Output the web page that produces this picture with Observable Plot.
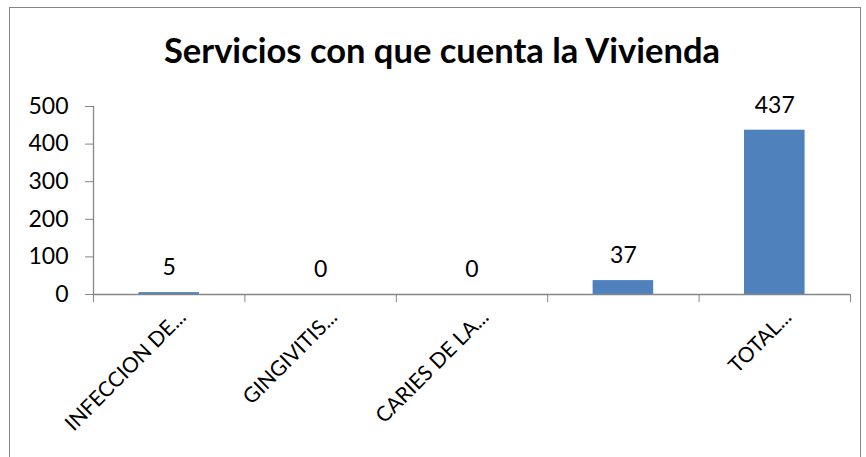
<!DOCTYPE html>
<html>
<head>
<meta charset="utf-8">
<script src="https://cdn.jsdelivr.net/npm/d3@7"></script>
<script src="https://cdn.jsdelivr.net/npm/@observablehq/plot@0.6"></script>
<style>
  html, body { margin: 0; padding: 0; background: #fff; }
  body { width: 866px; height: 457px; overflow: hidden; position: relative; font-family: Lato, "Open Sans", sans-serif; }
  #frame { position: absolute; left: 9px; top: 7px; width: 852px; height: 470px; border: 1.5px solid #868686; box-sizing: border-box; }
  #title { position: relative; height: 80px; font-weight: bold; font-size: 34.5px; line-height: 1; color: #000; }
  #title span { position: absolute; left: 18px; right: 0; top: 33px; text-align: center; }
  #chart { position: relative; }
</style>
</head>
<body>
<div id="frame"></div>
<div id="title"><span>Servicios con que cuenta la Vivienda</span></div>
<div id="chart"></div>
<script>
const categories = ["INFECCION DE...", "GINGIVITIS...", "CARIES DE LA...", "", "TOTAL..."];
const values = [5, 0, 0, 37, 437];
const yTicks = [0, 100, 200, 300, 400, 500];

const data = categories.map((c, i) => ({cat: c, i, value: values[i]}));
const boundaries = d3.range(0, categories.length + 1);
const axisColor = "#868686";
const barColor = "#4F81BD";

const plot = Plot.plot({
  width: 866,
  height: 377,
  marginLeft: 93,
  marginRight: 16,
  marginTop: 26,
  marginBottom: 163,
  style: { fontFamily: "Lato, 'Open Sans', sans-serif", fontSize: "22px", color: "#000", background: "transparent" },
  x: { domain: [0, categories.length], axis: null },
  y: { domain: [0, 500], axis: null },
  marks: [
    Plot.axisY({ ticks: yTicks, tickSize: 8, tickPadding: 17, stroke: axisColor, strokeOpacity: 1, fontSize: 23, fill: "#000", label: null }),
    Plot.axisX({ ticks: boundaries, tickSize: 8, tickFormat: () => "", stroke: axisColor, strokeOpacity: 1, label: null }),
    Plot.rectY(data, { x1: d => d.i + 0.3, x2: d => d.i + 0.7, y: "value", fill: barColor }),
    Plot.ruleX([0], { stroke: axisColor, strokeWidth: 1.3 }),
    Plot.ruleY([0], { stroke: axisColor, strokeWidth: 1.3 }),
    Plot.text(data, { x: d => d.i + 0.5, y: "value", text: d => String(d.value), dy: -25, fontSize: 23, fill: "#000" }),
    Plot.text(data, { x: d => d.i + 0.5, y: 0, text: "cat", rotate: -45, textAnchor: "end", lineAnchor: "bottom", dx: 18, dy: 24, fontSize: 21, fill: "#000" })
  ]
});
document.getElementById("chart").appendChild(plot);
</script>
</body>
</html>
